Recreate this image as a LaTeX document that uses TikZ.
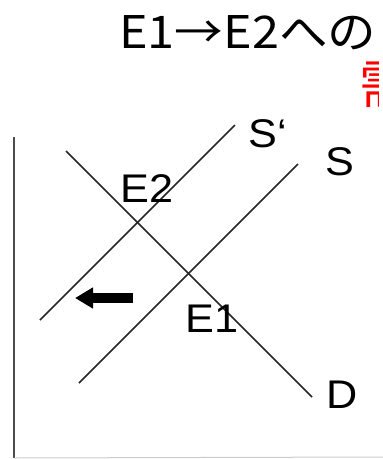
\documentclass[tikz,border=0pt]{standalone}
\usepackage{fontspec}
\setmainfont{Liberation Sans}
\newfontfamily\jpfont{Noto Sans CJK JP}
\usetikzlibrary{arrows.meta}
\begin{document}
\begin{tikzpicture}[x=1pt,y=-1pt,
  curve/.style={line width=1.5pt,draw=black!85},
  axis/.style={line width=2pt,draw=black!70},
  lbl/.style={inner sep=0pt,anchor=base west,font=\fontsize{40}{48}\selectfont,xscale=1.08,transform shape},
  shiftarrow/.style={line width=10pt,-{Triangle[length=18pt,width=20pt]}}]
\useasboundingbox (0,0) rectangle (383,459);
\fill[white] (0,0) rectangle (383,459);
% title
\node[inner sep=0pt,anchor=base west,font=\jpfont\fontsize{45}{50}\selectfont,xscale=1.08,transform shape] (title) at (119,48) {E1→E2への};
\begin{scope}
\clip (355,55) rectangle (378,115);
\node[inner sep=0pt,anchor=base west,text=red,font=\jpfont\fontsize{52}{56}\selectfont] (red) at (359,103) {需};
\end{scope}
% axes
\coordinate (ytop) at (14,137);
\coordinate (origin) at (14,458);
\coordinate (xend) at (383,457);
\draw[axis] (ytop) -- (origin);
\draw[line width=1pt,draw=black!20] (origin) -- (xend);
% curves
\coordinate (Sp1) at (40,320);
\coordinate (Sp2) at (235,125);
\coordinate (S1) at (79,383);
\coordinate (S2) at (298,164);
\coordinate (D1) at (66,151);
\coordinate (D2) at (312,397);
\draw[curve] (Sp1) -- (Sp2);
\draw[curve] (S1) -- (S2);
\draw[curve] (D1) -- (D2);
% labels
\node[lbl] (lSp) at (248,147) {S‘};
\node[lbl] (lS) at (325,175) {S};
\node[lbl] (lD) at (326,408) {D};
\node[lbl] (lE2) at (120,202) {E2};
\node[lbl] (lE1) at (185,332) {E1};
% shift arrow
\coordinate (a1) at (133,298);
\coordinate (a2) at (75,298);
\draw[shiftarrow] (a1) -- (a2);
\end{tikzpicture}
\end{document}
